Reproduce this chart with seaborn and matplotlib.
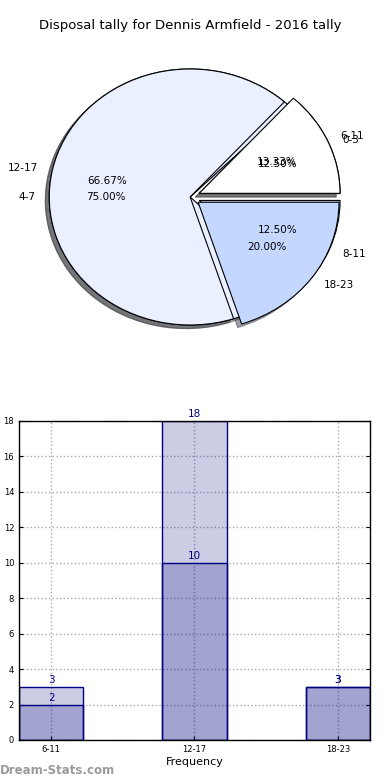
import matplotlib
matplotlib.use('Agg')
import matplotlib.pyplot as plt
import seaborn as sns
import pandas as pd

# data
title = 'Disposal tally for Dennis Armfield - 2016 tally'
pie_groups_a = ['6-11', '12-17', '18-23']
pie_counts_a = [2, 10, 3]
pie_groups_b = ['0-3', '4-7', '8-11']
pie_counts_b = [3, 18, 3]

bar_groups = ['6-11', '12-17', '18-23']
bar_light = [3, 18, 3]
bar_dark = [2, 10, 3]

sns.set_style('white')
plt.rcParams['font.family'] = ['DejaVu Sans']
plt.rcParams['text.color'] = 'black'
plt.rcParams['axes.labelcolor'] = 'black'
plt.rcParams['xtick.color'] = 'black'
plt.rcParams['ytick.color'] = 'black'

fig = plt.figure(figsize=(3.9, 7.8), dpi=100)

# ---------- pie (two pies drawn over each other) ----------
ax_pie = fig.add_axes([0.036, 0.5423, 0.903, 0.4103])
pie_colors = ['#FFFFFF', '#EAF0FF', '#C4D8FF']
explode = [0.07, 0, 0.07]
for labels, vals in [(pie_groups_b, pie_counts_b), (pie_groups_a, pie_counts_a)]:
    ax_pie.pie(vals, labels=labels, colors=pie_colors, explode=explode,
               autopct='%.2f%%', shadow=True,
               wedgeprops=dict(edgecolor='black', linewidth=0.8),
               textprops=dict(fontsize=7.5, color='black'))
ax_pie.set_aspect('auto')
ax_pie.set_xlim(-1.25, 1.25)
ax_pie.set_ylim(-1.25, 1.25)
ax_pie.set_title(title, fontsize=9.5, color='black')

# ---------- bars ----------
ax_bar = fig.add_axes([0.0487, 0.0513, 0.9, 0.409])
df_light = pd.DataFrame({'range': bar_groups, 'count': bar_light})
df_dark = pd.DataFrame({'range': bar_groups, 'count': bar_dark})
for df in [df_light, df_dark]:
    sns.barplot(data=df, x='range', y='count', color='navy', saturation=1,
                width=0.45, edgecolor='navy', linewidth=1, ax=ax_bar)
for p in ax_bar.patches:
    p.set_facecolor((0, 0, 0.5, 0.2))
    p.set_edgecolor('navy')

for vals in [bar_light, bar_dark]:
    for i, v in enumerate(vals):
        ax_bar.text(i, v + 0.1, str(v), ha='center', va='bottom',
                    color='navy', fontsize=7.5)

ax_bar.set_xlim(-0.225, 2.225)
ax_bar.set_ylim(0, 18)
ax_bar.set_yticks(range(0, 19, 2))
ax_bar.tick_params(labelsize=6, direction='in', left=True, bottom=True, right=True, length=3)
ax_bar.grid(True, linestyle=':', color='#AAAAAA', linewidth=1)
ax_bar.set_axisbelow(True)
ax_bar.set_ylabel('')
ax_bar.set_xlabel('Frequency', fontsize=8, labelpad=2)
for s in ax_bar.spines.values():
    s.set_color('black')
    s.set_linewidth(1)

fig.text(0.0, 0.004, 'Dream-Stats.com', color='#9A9A9A', fontsize=8.5,
         fontweight='bold', ha='left', va='bottom')

fig.savefig('out.png', dpi=100)
